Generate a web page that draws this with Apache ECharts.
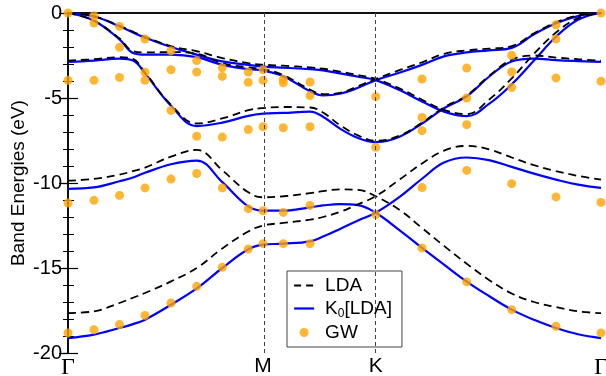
<!DOCTYPE html>
<html>
<head>
<meta charset="utf-8">
<script src="https://cdn.jsdelivr.net/npm/echarts@6/dist/echarts.min.js"></script>
<style>
  html, body { margin: 0; padding: 0; background: #fff; }
  #chart { width: 606px; height: 376px; }
</style>
</head>
<body>
<div id="chart"></div>
<script>
// high-symmetry path Γ-M-K-Γ (path length units)
const tickPos = [0, 0.5774, 0.9107, 1.5774];
const tickNames = ['Γ', 'M', 'K', 'Γ'];

// k sampling used for the band curves
const kGrid = [0, 0.0769, 0.1524, 0.1924, 0.2279, 0.3048, 0.3809, 0.4566, 0.5336, 0.5774,
  0.6372, 0.7162, 0.7547, 0.8050, 0.8583, 0.9107, 0.9826, 1.0477, 1.1128, 1.1800,
  1.2459, 1.3131, 1.3791, 1.4442, 1.5093, 1.5774];

// LDA bands (eV)
const ldaBand1 = [0, -0.2, -0.75, -1.1, -1.4, -1.95, -2.25, -2.65, -2.95, -3.04, -3.1, -3.2, -3.28, -3.45, -3.65, -3.88, -4.45, -5.1, -5.7, -5.95, -5.1, -3.85, -2.4, -1.15, -0.3, 0];
const ldaBand2 = [0, -0.45, -1.5, -2.25, -2.32, -2.3, -2.4, -2.95, -3.2, -3.3, -3.65, -4.5, -4.77, -4.7, -4.3, -3.88, -3.35, -2.9, -2.4, -2.2, -2.1, -1.95, -1.2, -0.55, -0.15, 0];
const ldaBand3 = [-2.8, -2.72, -2.6, -2.7, -3.5, -5.4, -6.5, -6.2, -5.72, -5.59, -5.53, -5.56, -5.85, -6.6, -7.2, -7.52, -7.2, -6.45, -5.55, -4.85, -3.7, -2.75, -2.5, -2.62, -2.72, -2.8];
const ldaBand4 = [-9.86, -9.76, -9.51, -9.3, -9.1, -8.45, -8.05, -9.25, -10.55, -10.84, -10.78, -10.6, -10.48, -10.38, -10.4, -10.78, -11.6, -12.65, -13.7, -14.75, -15.7, -16.5, -17.0, -17.3, -17.55, -17.65];
const ldaBand5 = [-17.65, -17.55, -17.06, -16.75, -16.47, -15.79, -15.0, -13.85, -12.85, -12.5, -12.35, -12.16, -12.0, -11.7, -11.25, -10.78, -9.78, -8.85, -8.1, -7.82, -8.02, -8.5, -8.95, -9.3, -9.58, -9.8];

// K0[LDA] bands (eV)
const k0Band1 = [0, -0.2, -0.78, -1.15, -1.45, -2.0, -2.45, -2.85, -3.05, -3.15, -3.22, -3.3, -3.38, -3.55, -3.75, -3.95, -4.55, -5.2, -5.8, -6.07, -5.35, -4.2, -2.8, -1.4, -0.4, 0];
const k0Band2 = [0, -0.45, -1.55, -2.35, -2.45, -2.45, -2.6, -3.05, -3.3, -3.38, -3.72, -4.6, -4.85, -4.75, -4.4, -3.95, -3.5, -3.05, -2.55, -2.32, -2.2, -2.05, -1.25, -0.6, -0.18, 0];
const k0Band3 = [-2.88, -2.8, -2.68, -2.8, -3.55, -5.45, -6.65, -6.45, -6.05, -5.92, -5.88, -5.8, -6.1, -6.8, -7.35, -7.59, -7.26, -6.5, -5.6, -4.9, -3.75, -2.85, -2.68, -2.77, -2.83, -2.88];
const k0Band4 = [-10.34, -10.26, -9.9, -9.68, -9.4, -8.9, -8.68, -9.95, -11.38, -11.63, -11.63, -11.43, -11.32, -11.24, -11.3, -11.75, -12.8, -13.82, -14.8, -15.8, -16.65, -17.45, -18.05, -18.53, -18.9, -19.12];
const k0Band5 = [-19.12, -18.92, -18.53, -18.3, -18.04, -17.16, -16.2, -15.0, -13.9, -13.63, -13.57, -13.43, -13.15, -12.7, -12.2, -11.75, -10.8, -9.75, -8.8, -8.5, -8.65, -9.05, -9.45, -9.8, -10.1, -10.29];

// GW quasiparticle energies at the computed k-points
const gwK = [0, 0.0769, 0.1524, 0.2279, 0.3048, 0.3809, 0.4566, 0.5336, 0.5774, 0.6372, 0.7162,
  0.9107, 1.0477, 1.1800, 1.3131, 1.4442, 1.5774];
const gwE = [
  [0, -3.96, -11.18, -18.82],
  [-0.16, -0.59, -3.96, -11.02, -18.63],
  [-0.79, -2.02, -3.79, -10.73, -18.33],
  [-1.53, -3.49, -3.96, -10.29, -17.79],
  [-2.22, -3.34, -5.73, -9.77, -17.06],
  [-2.8, -3.47, -7.25, -9.44, -16.08],
  [-3.22, -3.73, -7.3, -10.29, -14.96],
  [-3.47, -4.08, -6.86, -11.51, -13.88],
  [-3.34, -3.96, -6.69, -11.63, -13.57],
  [-3.9, -4.1, -6.75, -11.73, -13.57],
  [-4.06, -4.86, -6.69, -11.32, -13.57],
  [-4.92, -7.9, -11.86],
  [-3.88, -6.14, -6.92, -10.27, -13.82],
  [-3.24, -5.0, -6.57, -9.26, -15.82],
  [-2.49, -3.47, -4.38, -10.04, -17.45],
  [-0.69, -1.53, -3.82, -10.82, -18.43],
  [0, -4.02, -11.14, -18.82]
];

const ldaBands = [ldaBand1, ldaBand2, ldaBand3, ldaBand4, ldaBand5];
const k0Bands = [k0Band1, k0Band2, k0Band3, k0Band4, k0Band5];

const toPairs = band => band.map((e, i) => [kGrid[i], e]);
const font = 'Liberation Sans, Arial, sans-serif';

const chart = echarts.init(document.getElementById('chart'));

const series = [];

// vertical guides at M and K
series.push({
  type: 'line',
  data: [],
  z: 1,
  markLine: {
    silent: true,
    symbol: 'none',
    label: { show: false },
    lineStyle: { color: '#444', type: [4, 3], width: 1 },
    data: [{ xAxis: tickPos[1] }, { xAxis: tickPos[2] }]
  }
});

k0Bands.forEach(band => {
  series.push({
    name: 'K0[LDA]',
    type: 'line',
    data: toPairs(band),
    symbol: 'none',
    smooth: 0.4,
    z: 2,
    lineStyle: { color: '#0000ff', width: 2.2 },
    itemStyle: { color: '#0000ff' }
  });
});

ldaBands.forEach(band => {
  series.push({
    name: 'LDA',
    type: 'line',
    data: toPairs(band),
    symbol: 'none',
    smooth: 0.4,
    z: 3,
    lineStyle: { color: '#000', width: 1.8, type: [8, 5] },
    itemStyle: { color: '#000' }
  });
});

const gwData = [];
gwK.forEach((k, i) => {
  gwE[i].forEach(e => gwData.push([k, e]));
});

series.push({
  name: 'GW',
  type: 'scatter',
  data: gwData,
  symbol: 'circle',
  symbolSize: 9,
  z: 4,
  itemStyle: { color: '#ffa500' }
});

const option = {
  animation: false,
  backgroundColor: '#fff',
  grid: { left: 68, right: 5, top: 13, bottom: 23, containLabel: false, outerBoundsMode: 'none' },
  legend: {
    orient: 'vertical',
    left: 287,
    top: 271,
    padding: [4, 10, 4, 6],
    itemGap: 2,
    itemWidth: 20,
    itemHeight: 9,
    backgroundColor: '#fff',
    borderColor: '#444',
    borderWidth: 1,
    borderRadius: 0,
    data: [
      { name: 'LDA', itemStyle: { opacity: 0 }, lineStyle: { color: '#000', width: 2, type: [7, 5] } },
      { name: 'K0[LDA]', itemStyle: { opacity: 0 }, lineStyle: { color: '#0000ff', width: 2.2, type: 'solid' } },
      { name: 'GW', icon: 'circle' }
    ],
    formatter: name => name === 'K0[LDA]' ? '{a|K}{s|0}{a|[LDA]}' : name,
    textStyle: {
      fontFamily: font,
      fontSize: 19,
      color: '#000',
      lineHeight: 21,
      padding: [0, 0, 0, 6],
      rich: {
        a: { fontFamily: font, fontSize: 19, color: '#000' },
        s: { fontFamily: font, fontSize: 12, color: '#000', padding: [11, 0, 0, 0] }
      }
    }
  },
  xAxis: [
    {
      type: 'value',
      min: 0,
      max: tickPos[3],
      position: 'bottom',
      axisLine: { lineStyle: { color: '#000', width: 1.5 } },
      axisTick: { show: false },
      splitLine: { show: false },
      axisLabel: {
        customValues: tickPos,
        margin: 3,
        color: '#000',
        fontFamily: font,
        fontSize: 21,
        formatter: v => {
          let idx = 0;
          tickPos.forEach((p, i) => { if (Math.abs(p - v) < 1e-3) idx = i; });
          const n = tickNames[idx];
          return n === 'Γ' ? '{g|Γ}' : n;
        },
        rich: { g: { fontFamily: 'Liberation Serif, serif', fontSize: 24, color: '#000' } }
      }
    },
    {
      type: 'value',
      min: 0,
      max: tickPos[3],
      position: 'top',
      axisLine: { show: true, lineStyle: { color: '#000', width: 1.5 } },
      axisTick: { show: false },
      axisLabel: { show: false },
      splitLine: { show: false }
    }
  ],
  yAxis: [
    {
      type: 'value',
      min: -20,
      max: 0,
      interval: 5,
      position: 'left',
      name: 'Band Energies (eV)',
      nameLocation: 'middle',
      nameGap: 40,
      nameMoveOverlap: false,
      nameTextStyle: { fontFamily: font, fontSize: 19, color: '#000' },
      axisLine: { show: true, lineStyle: { color: '#000', width: 1.5 } },
      axisTick: { inside: true, length: 10, lineStyle: { color: '#000', width: 1.2 } },
      minorTick: { show: true, splitNumber: 5, length: 6, lineStyle: { color: '#000', width: 1 } },
      axisLabel: { margin: 6, color: '#000', fontFamily: font, fontSize: 20 },
      splitLine: { show: false }
    },
    {
      type: 'value',
      min: -20,
      max: 0,
      interval: 5,
      position: 'right',
      axisLine: { show: true, lineStyle: { color: '#000', width: 1.5 } },
      axisTick: { inside: true, length: 9, lineStyle: { color: '#000', width: 1.2 } },
      minorTick: { show: true, splitNumber: 5, length: 5, lineStyle: { color: '#000', width: 1 } },
      axisLabel: { show: false },
      splitLine: { show: false }
    },
    {
      type: 'value',
      min: -20,
      max: 0,
      interval: 5,
      position: 'left',
      axisLine: { show: false },
      axisTick: { inside: false, length: 5, lineStyle: { color: '#000', width: 1.2 } },
      axisLabel: { show: false },
      splitLine: { show: false }
    }
  ],
  series: series
};

chart.setOption(option);
</script>
</body>
</html>
